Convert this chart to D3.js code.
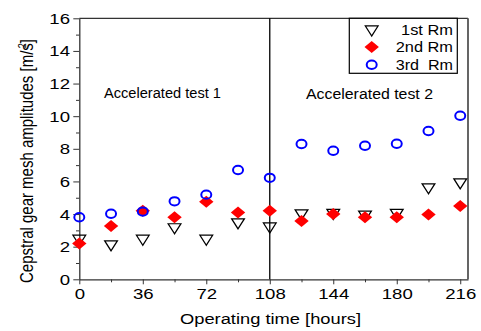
<!DOCTYPE html>
<html>
<head>
<meta charset="utf-8">
<script src="https://cdn.jsdelivr.net/npm/d3@7"></script>
<style>
  body { margin: 0; background: #fff; }
  svg text { font-family: "Liberation Sans", Arial, sans-serif; fill: #000; }
</style>
</head>
<body>
<div id="chart"></div>
<script>
const width = 481;
const height = 331;
const margin = { top: 18.3, right: 13, bottom: 51.7, left: 79.3 };

const hours = [0, 18, 36, 54, 72, 90, 108, 126, 144, 162, 180, 198, 216];
const rm1 = [2.5, 2.15, 2.5, 3.2, 2.5, 3.5, 3.25, 4.05, 4.08, 3.98, 4.08, 5.65, 5.95];
const rm2 = [2.2, 3.27, 4.2, 3.8, 4.75, 4.1, 4.2, 3.57, 4.0, 3.8, 3.8, 3.98, 4.5];
const rm3 = [3.8, 4.02, 4.15, 4.78, 5.19, 6.7, 6.22, 8.29, 7.88, 8.19, 8.31, 9.09, 10.03];
const xTicks = [0, 36, 72, 108, 144, 180, 216];
const xMinor = [18, 54, 90, 126, 162, 198];
const yTicks = [0, 2, 4, 6, 8, 10, 12, 14, 16];
const yMinor = [1, 3, 5, 7, 9, 11, 13, 15];
const legendLabels = ["1st Rm", "2nd Rm", "3rd\u00a0\u00a0Rm"];

const stretch = 1.2; // the source glyphs are wider than tall

const svg = d3.select("#chart").append("svg")
    .attr("width", width)
    .attr("height", height);

const x = d3.scaleLinear().domain([0, 220.4]).range([margin.left, width - margin.right]);
const y = d3.scaleLinear().domain([0, 16]).range([height - margin.bottom, margin.top]);

// top and right frame
svg.append("line")
    .attr("x1", margin.left).attr("x2", width - margin.right)
    .attr("y1", margin.top).attr("y2", margin.top)
    .attr("stroke", "#333").attr("stroke-width", 1.3);
svg.append("line")
    .attr("x1", width - margin.right).attr("x2", width - margin.right)
    .attr("y1", margin.top).attr("y2", height - margin.bottom)
    .attr("stroke", "#555").attr("stroke-width", 1.8);

// axes
const xAxis = svg.append("g")
    .attr("transform", `translate(0,${height - margin.bottom})`)
    .call(d3.axisBottom(x).tickValues(xTicks).tickSize(5).tickSizeOuter(0).tickPadding(4).tickFormat(d3.format("d")));
svg.append("g")
    .attr("transform", `translate(0,${height - margin.bottom})`)
    .call(d3.axisBottom(x).tickValues(xMinor).tickSize(3).tickFormat(""))
    .call(g => g.select(".domain").remove());

const yAxis = svg.append("g")
    .attr("transform", `translate(${margin.left},0)`)
    .call(d3.axisLeft(y).tickValues(yTicks).tickSize(6).tickSizeOuter(0));
svg.append("g")
    .attr("transform", `translate(${margin.left},0)`)
    .call(d3.axisLeft(y).tickValues(yMinor).tickSize(3.3).tickFormat(""))
    .call(g => g.select(".domain").remove());

svg.selectAll(".domain").attr("stroke", "#333").attr("stroke-width", 1.3);
svg.selectAll(".tick line").attr("stroke", "#333");

xAxis.selectAll("text")
    .style("font-size", "15.5px")
    .attr("transform", `scale(${stretch},1)`);
yAxis.selectAll("text")
    .style("font-size", "15.5px")
    .attr("x", -9.3 / stretch)
    .attr("transform", `scale(${stretch},1)`);

// axis titles
svg.append("text")
    .attr("x", 270.5)
    .attr("y", 324)
    .attr("text-anchor", "middle")
    .attr("textLength", 181)
    .attr("lengthAdjust", "spacingAndGlyphs")
    .style("font-size", "15.5px")
    .text("Operating time [hours]");

const yt = svg.append("text")
    .attr("transform", `translate(33,161) rotate(-90) scale(1,${stretch})`)
    .attr("text-anchor", "middle")
    .style("font-size", "15px");
yt.append("tspan").text("Cepstral gear mesh amplitudes [m/s");
yt.append("tspan").attr("dy", -6).attr("dx", -5).style("font-size", "9px").text("2");
yt.append("tspan").attr("dy", 6).attr("dx", 0).text("]");

// divider at 108 h
svg.append("line")
    .attr("x1", x(108)).attr("x2", x(108))
    .attr("y1", margin.top).attr("y2", height - margin.bottom)
    .attr("stroke", "#000")
    .attr("stroke-width", 1.3);

// annotations
svg.append("text")
    .attr("x", 104)
    .attr("y", 98)
    .attr("textLength", 117)
    .attr("lengthAdjust", "spacingAndGlyphs")
    .style("font-size", "14px")
    .text("Accelerated test 1");
svg.append("text")
    .attr("x", 306)
    .attr("y", 99)
    .attr("textLength", 127)
    .attr("lengthAdjust", "spacingAndGlyphs")
    .style("font-size", "14px")
    .text("Accelerated test 2");

const tri = d3.symbol().type(d3.symbolTriangle).size(58);
const dia = d3.symbol().type(d3.symbolSquare).size(72);

const triT = (cx, cy) => `translate(${cx},${cy}) scale(1.1,1) rotate(180)`;
const diaT = (cx, cy) => `translate(${cx},${cy}) scale(1.2,1) rotate(45)`;

// 1st Rm: open down triangles
svg.append("g").selectAll("path")
    .data(hours.map((h, i) => ({ h, v: rm1[i] })))
    .join("path")
    .attr("d", tri)
    .attr("transform", d => triT(x(d.h), y(d.v)))
    .attr("fill", "none")
    .attr("stroke", "#000")
    .attr("stroke-width", 1.2);

// 2nd Rm: red diamonds
svg.append("g").selectAll("path")
    .data(hours.map((h, i) => ({ h, v: rm2[i] })))
    .join("path")
    .attr("d", dia)
    .attr("transform", d => diaT(x(d.h), y(d.v)))
    .attr("fill", "#ff0000");

// 3rd Rm: blue open circles
svg.append("g").selectAll("ellipse")
    .data(hours.map((h, i) => ({ h, v: rm3[i] })))
    .join("ellipse")
    .attr("cx", d => x(d.h))
    .attr("cy", d => y(d.v))
    .attr("rx", 5)
    .attr("ry", 4.2)
    .attr("fill", "none")
    .attr("stroke", "#0000ff")
    .attr("stroke-width", 2);

// legend
const legend = svg.append("g");
legend.append("rect")
    .attr("x", 349.3).attr("y", margin.top)
    .attr("width", 108).attr("height", 55)
    .attr("fill", "#fff")
    .attr("stroke", "#000")
    .attr("stroke-width", 1.2);

const rows = [29.3, 47, 64.7];
const lx = 371.7;
legend.append("path")
    .attr("d", tri)
    .attr("transform", triT(lx, rows[0]))
    .attr("fill", "none").attr("stroke", "#000").attr("stroke-width", 1.2);
legend.append("path")
    .attr("d", dia)
    .attr("transform", diaT(lx, rows[1]))
    .attr("fill", "#ff0000");
legend.append("ellipse")
    .attr("cx", lx).attr("cy", rows[2]).attr("rx", 5).attr("ry", 4.2)
    .attr("fill", "none").attr("stroke", "#0000ff").attr("stroke-width", 2);

const legendWidths = [52, 57.3, 57.3];
legend.selectAll("text.lab")
    .data(legendLabels)
    .join("text")
    .attr("class", "lab")
    .attr("x", (d, i) => 453 - legendWidths[i])
    .attr("y", (d, i) => rows[i] + 5.2)
    .attr("textLength", (d, i) => legendWidths[i])
    .attr("lengthAdjust", "spacingAndGlyphs")
    .style("font-size", "14.4px")
    .text(d => d);
</script>
</body>
</html>
